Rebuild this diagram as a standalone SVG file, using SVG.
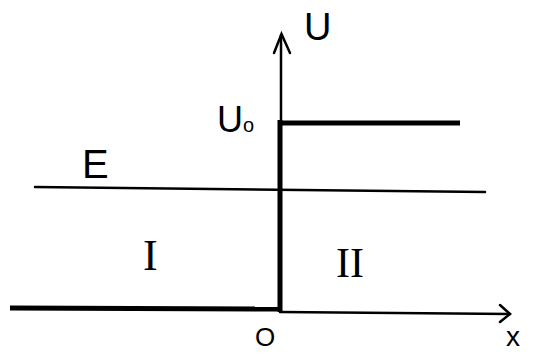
<svg xmlns="http://www.w3.org/2000/svg" width="555" height="354" viewBox="0 0 555 354">
<style>
.t{font-family:"Liberation Sans","DejaVu Sans",sans-serif;fill:#000}
.r{font-family:"Liberation Serif","DejaVu Serif",serif;fill:#000}
.thin{stroke:#000;stroke-width:2.5;fill:none;stroke-linecap:round}
.thick{stroke:#000;stroke-width:5;fill:none}
</style>
<rect width="555" height="354" fill="#fff"/>
<g id="connectors">
<line class="thin" x1="35" y1="187" x2="485" y2="192"/>
<line class="thin" x1="281" y1="35" x2="281" y2="125"/>
<polyline class="thin" points="274,53 281.5,34 290,53"/>
<line class="thick" x1="280" y1="120" x2="280" y2="312"/>
<line class="thick" x1="278" y1="123" x2="460" y2="123"/>
<line class="thick" x1="10" y1="308" x2="280" y2="309"/>
<line class="thin" x1="280" y1="312" x2="510" y2="314"/>
<polyline class="thin" points="500,305 510,314 500,322"/>
</g>
<g id="label-U"><text class="t" x="304" y="40" font-size="38">U</text></g>
<g id="label-U0"><text class="t" x="217" y="132" font-size="36">U<tspan font-size="20">o</tspan></text></g>
<g id="label-E"><text class="t" x="82" y="178" font-size="40">E</text></g>
<g id="label-I"><text class="r" x="143" y="270" font-size="44">I</text></g>
<g id="label-II"><text class="r" x="336" y="277" font-size="42">II</text></g>
<g id="label-0"><text class="t" x="265" y="346" font-size="26" text-anchor="middle">O</text></g>
<g id="label-x"><text class="t" x="513" y="346" font-size="28" text-anchor="middle">x</text></g>
</svg>
